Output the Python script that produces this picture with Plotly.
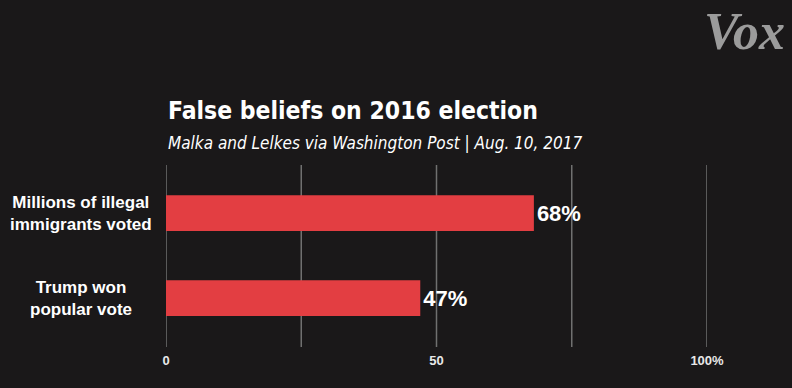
import plotly.graph_objects as go

categories = ["Millions of illegal<br>immigrants voted", "Trump won<br>popular vote"]
values = [68, 47]
value_labels = ["68%", "47%"]
tick_vals = [0, 25, 50, 75, 100]
tick_text = ["0", "", "50", "", "100%"]

title = "False beliefs on 2016 election"
subtitle = "Malka and Lelkes via Washington Post | Aug. 10, 2017"

W, H = 792, 388
L, R, T, B = 166, 85, 165, 41
pw, ph = W - L - R, H - T - B

def px(x):
    return (x - L) / pw

def py(y):
    return (H - B - y) / ph

bg = "#1a1819"
grid = "#707070"
fig = go.Figure()
fig.add_trace(go.Bar(
    x=values, y=list(range(len(categories))), orientation="h",
    marker=dict(color="#e33e42", line=dict(width=0)),
    width=0.42,
    text=value_labels, textposition="outside",
    textfont=dict(family="Liberation Sans", size=22, color="#ffffff", weight="bold"),
    cliponaxis=False, hoverinfo="skip",
))

annotations = [
    dict(text=title, x=px(166), y=py(110), xref="paper", yref="paper",
         xanchor="left", yanchor="middle", showarrow=False,
         font=dict(family="DejaVu Sans Condensed", size=24.5, color="#ffffff", weight="bold")),
    dict(text=subtitle, x=px(166), y=py(143), xref="paper", yref="paper",
         xanchor="left", yanchor="middle", showarrow=False,
         font=dict(family="DejaVu Sans Condensed", size=17, color="#ffffff", style="italic")),
    dict(text="Vox", x=px(787), y=py(31), xref="paper", yref="paper",
         xanchor="right", yanchor="middle", showarrow=False,
         font=dict(family="Liberation Serif", size=52, color="#9b9b9b",
                   weight="bold", style="italic")),
]
for i, c in enumerate(categories):
    annotations.append(dict(
        text=c, x=px(81), y=i, xref="paper", yref="y",
        xanchor="center", yanchor="middle", align="center", showarrow=False,
        font=dict(family="Liberation Sans", size=17, color="#ffffff", weight="bold")))

shapes = [dict(type="line", xref="x", yref="paper", x0=v, x1=v, y0=0, y1=1,
               line=dict(color=grid, width=1.5), layer="below") for v in tick_vals]

fig.update_layout(
    width=W, height=H,
    margin=dict(l=L, r=R, t=T, b=B, pad=0),
    paper_bgcolor=bg, plot_bgcolor=bg,
    showlegend=False,
    annotations=annotations,
    shapes=shapes,
    xaxis=dict(range=[0, 100], tickvals=tick_vals, ticktext=tick_text,
               showgrid=False, zeroline=False, showline=False, ticks="", ticklen=0,
               ticklabelstandoff=4,
               tickfont=dict(family="Liberation Sans", size=13, color="#e8e8e8", weight="bold"),
               fixedrange=True),
    yaxis=dict(range=[1.576, -0.565], showticklabels=False, showgrid=False,
               zeroline=False, showline=False, fixedrange=True),
)
fig.write_html("out.html", config={"displayModeBar": False},
               post_script="document.body.style.margin='0';document.body.style.background='%s';" % bg)
